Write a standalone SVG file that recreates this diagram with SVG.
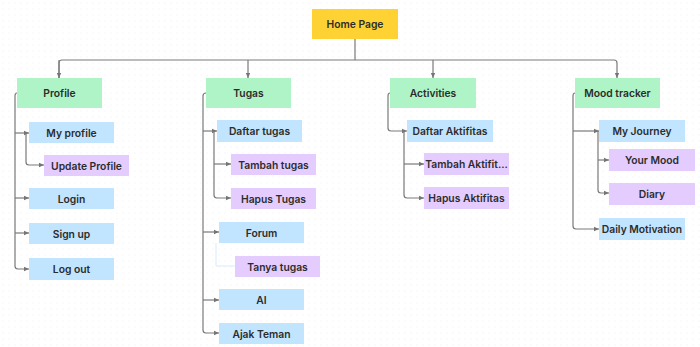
<svg xmlns="http://www.w3.org/2000/svg" width="700" height="347" viewBox="0 0 700 347">
<defs>
<pattern id="dots" width="6" height="6" patternUnits="userSpaceOnUse">
<rect x="2.5" y="2.5" width="1" height="1" fill="#efefef"/>
</pattern>
<marker id="arr" markerWidth="6" markerHeight="6" refX="5" refY="3" orient="auto" markerUnits="userSpaceOnUse">
<path d="M0,0.8 L5,3 L0,5.2 z" fill="#757575"/>
</marker>
</defs>
<style>
.c{fill:none;stroke:#7a7a7a;stroke-width:1.2}
.y{fill:#FFD233}
.g{fill:#AFF4C6}
.b{fill:#C2E5FF}
.p{fill:#E4CCFF}
text{font-family:Inter,"Liberation Sans",sans-serif;font-size:10.3px;font-weight:600;fill:#2c2c2c;text-anchor:middle;dominant-baseline:central}
</style>
<rect width="700" height="347" fill="#ffffff"/>
<rect width="700" height="347" fill="url(#dots)"/>
<g id="connectors">
<path class="c" d="M355,39 V60 M59,78 V63 Q59,60 62,60 H614 Q617,60 617,63 V78" marker-end="url(#arr)"/>
<path class="c" d="M59,60 V78" marker-end="url(#arr)"/>
<path class="c" d="M248,60 V78" marker-end="url(#arr)"/>
<path class="c" d="M433,60 V78" marker-end="url(#arr)"/>
<path class="c" d="M17,93 Q15,93 15,96 V266 Q15,269 18,269 H29" marker-end="url(#arr)"/>
<path class="c" d="M15,133 H29" marker-end="url(#arr)"/>
<path class="c" d="M15,198 H29" marker-end="url(#arr)"/>
<path class="c" d="M15,233 H29" marker-end="url(#arr)"/>
<path class="c" d="M26,133 V162 Q26,165 29,165 H44" marker-end="url(#arr)"/>
<path class="c" d="M206,93 Q203,93 203,96 V330 Q203,333 206,333 H219" marker-end="url(#arr)"/>
<path class="c" d="M203,131 H217" marker-end="url(#arr)"/>
<path class="c" d="M203,232 H219" marker-end="url(#arr)"/>
<path class="c" d="M203,300 H219" marker-end="url(#arr)"/>
<path class="c" d="M214,131 V195 Q214,198 217,198 H231" marker-end="url(#arr)"/>
<path class="c" d="M214,164 H231" marker-end="url(#arr)"/>
<path d="M216,243 V266 H235" fill="none" stroke="#d8ebfb" stroke-width="1"/>
<path class="c" d="M390,93 Q388,93 388,96 V128 Q388,131 391,131 H407" marker-end="url(#arr)"/>
<path class="c" d="M404,131 V195 Q404,198 407,198 H424" marker-end="url(#arr)"/>
<path class="c" d="M404,164 H424" marker-end="url(#arr)"/>
<path class="c" d="M575,93 Q573,93 573,96 V226 Q573,229 576,229 H599" marker-end="url(#arr)"/>
<path class="c" d="M573,131 H599" marker-end="url(#arr)"/>
<path class="c" d="M598,131 V190 Q598,193 601,193 H609" marker-end="url(#arr)"/>
<path class="c" d="M598,160 H609" marker-end="url(#arr)"/>
</g>
<g id="home"><rect class="y" x="312" y="9" width="86" height="30"/><text x="355" y="24">Home Page</text></g>
<g id="profile"><rect class="g" x="17" y="78" width="85" height="30"/><text x="59.5" y="93">Profile</text></g>
<g id="tugas"><rect class="g" x="206" y="78" width="85" height="30"/><text x="248.5" y="93">Tugas</text></g>
<g id="activities"><rect class="g" x="390" y="78" width="86" height="30"/><text x="433" y="93">Activities</text></g>
<g id="mood"><rect class="g" x="575" y="78" width="85" height="30"/><text x="617.5" y="93">Mood tracker</text></g>
<g id="myprofile"><rect class="b" x="29" y="122" width="85" height="21"/><text x="71.5" y="132.5">My profile</text></g>
<g id="updateprofile"><rect class="p" x="44" y="155" width="85" height="21"/><text x="86.5" y="165.5">Update Profile</text></g>
<g id="login"><rect class="b" x="29" y="188" width="85" height="21"/><text x="71.5" y="198.5">Login</text></g>
<g id="signup"><rect class="b" x="29" y="223" width="85" height="21"/><text x="71.5" y="233.5">Sign up</text></g>
<g id="logout"><rect class="b" x="29" y="258" width="85" height="22"/><text x="71.5" y="269">Log out</text></g>
<g id="daftartugas"><rect class="b" x="217" y="120" width="85" height="22"/><text x="259.5" y="131">Daftar tugas</text></g>
<g id="tambahtugas"><rect class="p" x="231" y="154" width="85" height="21"/><text x="273.5" y="164.5">Tambah tugas</text></g>
<g id="hapustugas"><rect class="p" x="231" y="188" width="85" height="21"/><text x="273.5" y="198.5">Hapus Tugas</text></g>
<g id="forum"><rect class="b" x="219" y="222" width="85" height="21"/><text x="261.5" y="232.5">Forum</text></g>
<g id="tanyatugas"><rect class="p" x="235" y="256" width="85" height="21"/><text x="277.5" y="266.5">Tanya tugas</text></g>
<g id="ai"><rect class="b" x="219" y="289" width="85" height="21"/><text x="261.5" y="299.5">AI</text></g>
<g id="ajakteman"><rect class="b" x="219" y="323" width="85" height="21"/><text x="261.5" y="333.5">Ajak Teman</text></g>
<g id="daftaraktifitas"><rect class="b" x="407" y="120" width="86" height="22"/><text x="450" y="131">Daftar Aktifitas</text></g>
<g id="tambahaktifitas"><rect class="p" x="424" y="153" width="85" height="22"/><text x="466.5" y="164">Tambah Aktifit...</text></g>
<g id="hapusaktifitas"><rect class="p" x="424" y="187" width="85" height="22"/><text x="466.5" y="198">Hapus Aktifitas</text></g>
<g id="myjourney"><rect class="b" x="599" y="120" width="86" height="22"/><text x="642" y="131">My Journey</text></g>
<g id="yourmood"><rect class="p" x="609" y="149" width="86" height="22"/><text x="652" y="160">Your Mood</text></g>
<g id="diary"><rect class="p" x="609" y="183" width="86" height="22"/><text x="652" y="194">Diary</text></g>
<g id="dailymotivation"><rect class="b" x="599" y="218" width="86" height="22"/><text x="642" y="229">Daily Motivation</text></g>
</svg>
